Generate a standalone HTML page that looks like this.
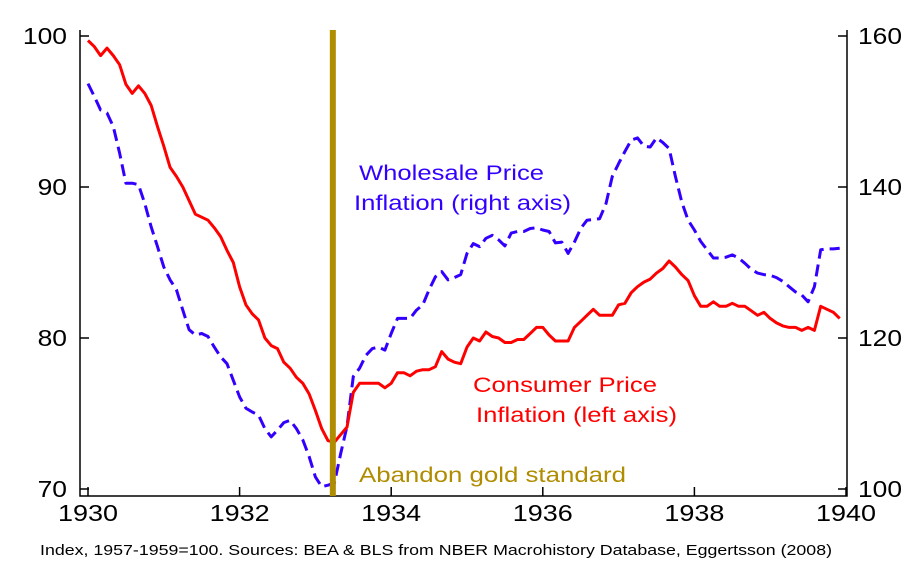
<!DOCTYPE html>
<html><head><meta charset="utf-8"><style>
html,body{margin:0;padding:0;background:#fff;}
svg{display:block;font-family:"Liberation Sans",sans-serif;}
</style></head><body>
<svg id="chart" width="910" height="564" viewBox="0 0 910 564">
<g id="axes"></g>
<g id="series"></g>
<text x="359" y="180" font-size="21" textLength="185" lengthAdjust="spacingAndGlyphs" fill="#3300ff">Wholesale Price</text>
<text x="354" y="210" font-size="21" textLength="217" lengthAdjust="spacingAndGlyphs" fill="#3300ff">Inflation (right axis)</text>
<text x="473" y="392" font-size="21" textLength="184" lengthAdjust="spacingAndGlyphs" fill="#ff0000">Consumer Price</text>
<text x="476" y="422" font-size="21" textLength="201" lengthAdjust="spacingAndGlyphs" fill="#ff0000">Inflation (left axis)</text>
<text x="359" y="482" font-size="21" textLength="267" lengthAdjust="spacingAndGlyphs" fill="#b08c00">Abandon gold standard</text>
<text x="40" y="555" font-size="15" textLength="792" lengthAdjust="spacingAndGlyphs" font-family="'Liberation Sans Narrow','Liberation Sans',sans-serif" fill="#000">Index, 1957-1959=100. Sources: BEA &amp; BLS from NBER Macrohistory Database, Eggertsson (2008)</text>
</svg>
<script>
const xTicks = [1930, 1932, 1934, 1936, 1938, 1940];
const leftTicks = [70, 80, 90, 100];
const rightTicks = [100, 120, 140, 160];
const startYear = 1930;
const goldDate = 1933.23;
const cpi = [99.7,99.3,98.7,99.2,98.7,98.1,96.8,96.2,96.7,96.2,95.4,94.0,
92.7,91.3,90.7,90.0,89.1,88.2,88.0,87.8,87.3,86.7,85.8,85.0,
83.4,82.2,81.6,81.2,80.0,79.5,79.3,78.4,78.0,77.4,77.0,76.3,
75.2,74.0,73.2,73.1,73.6,74.1,76.4,77.0,77.0,77.0,77.0,76.7,
77.0,77.7,77.7,77.5,77.8,77.9,77.9,78.1,79.1,78.6,78.4,78.3,
79.4,80.0,79.8,80.4,80.1,80.0,79.7,79.7,79.9,79.9,80.3,80.7,
80.7,80.2,79.8,79.8,79.8,80.7,81.1,81.5,81.9,81.5,81.5,81.5,
82.2,82.3,83.0,83.4,83.7,83.9,84.3,84.6,85.1,84.7,84.2,83.8,
82.8,82.1,82.1,82.4,82.1,82.1,82.3,82.1,82.1,81.8,81.5,81.7,
81.3,81.0,80.8,80.7,80.7,80.5,80.7,80.5,82.1,81.9,81.7,81.3];
const wpi = [153.7,152.0,150.2,149.8,148.0,144.5,140.5,140.5,140.3,137.8,134.7,132.1,
129.4,127.7,126.4,123.7,121.1,120.4,120.6,120.2,118.8,117.5,116.6,114.4,
112.2,110.7,110.2,109.8,108.0,106.9,107.8,108.8,109.1,108.0,106.5,104.3,
101.6,100.3,100.5,100.8,104.7,108.3,114.9,116.0,117.7,118.6,118.8,118.4,
120.6,122.6,122.6,122.6,123.7,124.4,126.4,128.1,128.8,127.7,128.0,128.4,
131.2,132.5,132.1,133.2,133.6,133.0,132.2,133.9,134.1,134.1,134.5,134.6,
134.3,134.1,132.6,132.7,131.2,132.7,134.5,135.6,135.7,135.8,137.8,141.4,
143.1,144.7,146.2,146.5,145.4,145.3,146.5,145.9,145.1,141.4,138.0,135.6,
134.3,132.8,131.7,130.6,130.6,130.7,131.0,130.6,129.9,129.1,128.6,128.4,
128.3,128.0,127.5,126.8,126.1,125.7,124.8,126.8,131.7,131.8,131.8,131.9];

const X0=80, X1=847, YT=30, YB=496;
const xs = yr => 88 + (yr-1930)*75.8;
const yl = v => 36 + (100-v)*15.1;
const yr = v => 36 + (160-v)*7.55;
const NS="http://www.w3.org/2000/svg";
function mk(tag, attrs, parent){const e=document.createElementNS(NS,tag);for(const k in attrs)e.setAttribute(k,attrs[k]);parent.appendChild(e);return e;}
const axes=document.getElementById('axes'), series=document.getElementById('series');

let e=mk('path',{d:`M${X0},${YT}V${YB}H${X1}V${YT}`,fill:'none',stroke:'#000','stroke-width':1.5},axes);


xTicks.forEach(t=>{
  const x=xs(t);
  let l=mk('line',{x1:x,x2:x,y1:YB,y2:YB-9,stroke:'#000','stroke-width':1.5},axes);
  
  
  let tx=mk('text',{x:x,y:521,'text-anchor':'middle','font-size':23,textLength:60,lengthAdjust:'spacingAndGlyphs'},axes);
  tx.textContent=t;
  
  
});
leftTicks.forEach(t=>{
  const y=yl(t);
  let l=mk('line',{x1:X0,x2:X0+9,y1:y,y2:y,stroke:'#000','stroke-width':1.5},axes);
  
  
  const s=String(t);
  let tx=mk('text',{x:67-s.length*14.7,y:y+8,'font-size':23,textLength:s.length*14.7,lengthAdjust:'spacingAndGlyphs'},axes);
  tx.textContent=t;
  
  
});
rightTicks.forEach(t=>{
  const y=yr(t);
  let l=mk('line',{x1:X1,x2:X1-9,y1:y,y2:y,stroke:'#000','stroke-width':1.5},axes);
  
  
  let tx=mk('text',{x:858,y:y+8,'font-size':23,textLength:44,lengthAdjust:'spacingAndGlyphs'},axes);
  tx.textContent=t;
  
  
});
const pts=(arr,f)=>arr.map((v,i)=>`${xs(startYear+i/12).toFixed(1)},${f(v).toFixed(1)}`).join(' ');
let w=mk('polyline',{points:pts(wpi,yr),fill:'none',stroke:'#3300ff','stroke-width':3,'stroke-dasharray':'12 6','stroke-linejoin':'round'},series);


let c=mk('polyline',{points:pts(cpi,yl),fill:'none',stroke:'#ff0000','stroke-width':3,'stroke-linejoin':'round'},series);


let g=mk('line',{x1:xs(goldDate),x2:xs(goldDate),y1:YT,y2:YB,stroke:'#b08c00','stroke-width':6},series);


</script>
</body></html>
